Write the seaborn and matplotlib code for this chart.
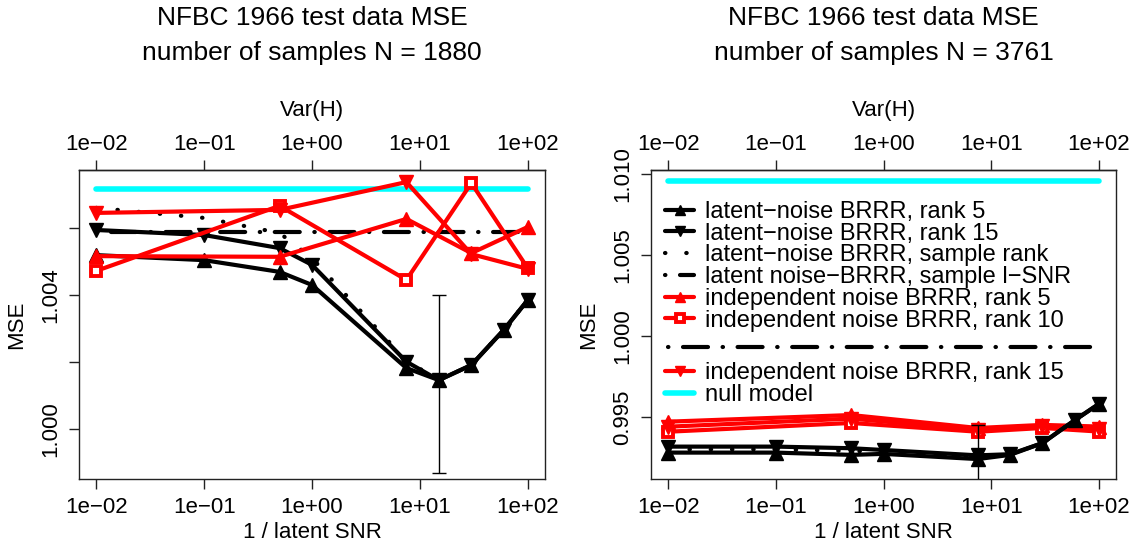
import numpy as np
import pandas as pd
import matplotlib
matplotlib.use("Agg")
import matplotlib.pyplot as plt
import seaborn as sns

# x grid: 1 / latent SNR
x_latent = [0.01, 0.1, 0.5, 1, 7.5, 15, 30, 60, 100]
x_indep = [0.01, 0.5, 7.5, 30, 100]
x_flat = [0.01, 100]

x_ticks = [0.01, 0.1, 1, 10, 100]
x_ticklabels = ["1e\u221202", "1e\u221201", "1e+00", "1e+01", "1e+02"]

# N = 1880
n1_latent_r5 = [1.00519, 1.00504, 1.00469, 1.00430, 1.00182, 1.00146, 1.00191, 1.00296, 1.00385]
n1_latent_r15 = [1.00594, 1.00579, 1.00540, 1.00490, 1.00201, 1.00146, 1.00191, 1.00296, 1.00385]
n1_latent_samp = [1.00660, 1.00630, 1.00585, 1.00510, 1.00204, 1.00146, 1.00191, 1.00296, 1.00385]
n1_latent_lsnr = [1.00588, 1.00588]
n1_indep_r5 = [1.00516, 1.00514, 1.00627, 1.00525, 1.00603]
n1_indep_r10 = [1.00472, 1.00666, 1.00445, 1.00734, 1.00480]
n1_indep_r15 = [1.00645, 1.00654, 1.00737, 1.00522, 1.00478]
n1_null = [1.00716, 1.00716]
n1_err_x, n1_err_y, n1_err = 15, 1.00134, 0.00266

# N = 3761
n2_latent_r5 = [0.99280, 0.99280, 0.99266, 0.99272, 0.99240, 0.99266, 0.99339, 0.99481, 0.99580]
n2_latent_r15 = [0.99317, 0.99317, 0.99307, 0.99296, 0.99263, 0.99270, 0.99339, 0.99481, 0.99580]
n2_latent_samp = [0.99300, 0.99300, 0.99290, 0.99285, 0.99250, 0.99268, 0.99339, 0.99481, 0.99580]
n2_latent_lsnr = [0.99934, 0.99934]
n2_indep_r5 = [0.99471, 0.99512, 0.99432, 0.99451, 0.99441]
n2_indep_r10 = [0.99409, 0.99463, 0.99409, 0.99432, 0.99410]
n2_indep_r15 = [0.99440, 0.99490, 0.99420, 0.99445, 0.99425]
n2_null = [1.00957, 1.00957]
n2_err_x, n2_err_y, n2_err = 7.5, 0.99240, 0.00210

labels = ["latent\u2212noise BRRR, rank 5",
          "latent\u2212noise BRRR, rank 15",
          "latent\u2212noise BRRR, sample rank",
          "latent noise\u2212BRRR, sample l\u2212SNR",
          "independent noise BRRR, rank 5",
          "independent noise BRRR, rank 10",
          "independent noise BRRR, rank 15",
          "null model"]

sns.set_theme(style="ticks")
plt.rcParams['font.family'] = ['Liberation Sans', 'DejaVu Sans']
plt.rcParams['axes.linewidth'] = 1.0
plt.rcParams['axes.edgecolor'] = '#222222'
plt.rcParams['text.color'] = 'black'
plt.rcParams['axes.labelcolor'] = 'black'
plt.rcParams['xtick.color'] = 'black'
plt.rcParams['ytick.color'] = 'black'

lw = 3
ms = 10
fs = 16
dot_style = dict(linestyle=(0, (0.1, 5)), dash_capstyle='round')
dashdot_style = dict(linestyle=(0, (0.1, 3.5, 6, 3.5)), dash_capstyle='round')


def draw_panel(ax, vals, err, ylim, yticks, yticklabels, title, black_on_top):
    r5, r15, samp, lsnr, i5, i10, i15, null = vals
    zb = 4 if black_on_top else 2
    zr = 2 if black_on_top else 4

    sns.lineplot(x=x_flat, y=null, ax=ax, color='#00FFFF', lw=4, label=labels[7], zorder=1)
    sns.lineplot(x=x_flat, y=lsnr, ax=ax, color='black', lw=lw, label=labels[3], zorder=zb, **dashdot_style)
    sns.lineplot(x=x_latent, y=samp, ax=ax, color='black', lw=lw, label=labels[2], zorder=zb, **dot_style)
    sns.lineplot(x=x_latent, y=r5, ax=ax, color='black', lw=lw, marker='^', ms=ms,
                 markeredgecolor='black', markeredgewidth=1, label=labels[0], zorder=zb)
    sns.lineplot(x=x_latent, y=r15, ax=ax, color='black', lw=lw, marker='v', ms=ms,
                 markeredgecolor='black', markeredgewidth=1, label=labels[1], zorder=zb)
    sns.lineplot(x=x_indep, y=i5, ax=ax, color='red', lw=lw, marker='^', ms=ms,
                 markeredgecolor='red', markeredgewidth=1, label=labels[4], zorder=zr)
    sns.lineplot(x=x_indep, y=i10, ax=ax, color='red', lw=lw, marker='s', ms=7,
                 markerfacecolor='white', markeredgecolor='red', markeredgewidth=2.8,
                 label=labels[5], zorder=zr)
    sns.lineplot(x=x_indep, y=i15, ax=ax, color='red', lw=lw, marker='v', ms=ms,
                 markeredgecolor='red', markeredgewidth=1, label=labels[6], zorder=zr)

    ex, ey, ee = err
    ax.errorbar([ex], [ey], yerr=[ee], fmt='none', ecolor='black', elinewidth=1,
                capsize=5, capthick=1, zorder=5)

    ax.set_xscale('log')
    ax.set_xlim(10 ** -2.16, 10 ** 2.16)
    ax.set_ylim(*ylim)
    ax.minorticks_off()
    ax.set_xticks(x_ticks)
    ax.set_xticklabels(x_ticklabels, fontsize=fs)
    ax.set_yticks(yticks)
    ax.set_yticklabels(yticklabels, fontsize=fs, rotation=90, va='center')
    ax.tick_params(axis='both', length=7, width=1, color='#222222', pad=6)
    ax.set_xlabel('1 / latent SNR', fontsize=fs, labelpad=3)
    ax.set_ylabel('MSE', fontsize=fs, labelpad=9)

    top = ax.secondary_xaxis('top')
    top.set_xticks(x_ticks)
    top.set_xticklabels(x_ticklabels, fontsize=fs)
    top.minorticks_off()
    top.tick_params(length=7, width=1, color='#222222', pad=4)
    top.set_xlabel('Var(H)', fontsize=fs, labelpad=13)

    ax.set_title(title, fontsize=19, y=1.435, va='center', linespacing=1.55, pad=0)
    for s in ax.spines.values():
        s.set_visible(True)
    ax.grid(False)
    ax.get_legend().remove()


fig = plt.figure(figsize=(11.35, 5.43), dpi=100)
ax1 = fig.add_axes([79 / 1135, 64 / 543, 466 / 1135, 309 / 543])
ax2 = fig.add_axes([651 / 1135, 64 / 543, 465 / 1135, 309 / 543])

draw_panel(ax1,
           [n1_latent_r5, n1_latent_r15, n1_latent_samp, n1_latent_lsnr,
            n1_indep_r5, n1_indep_r10, n1_indep_r15, n1_null],
           (n1_err_x, n1_err_y, n1_err),
           (0.99851, 1.00773), [1.000, 1.002, 1.004, 1.006],
           ["1.000", "", "1.004", ""],
           "NFBC 1966 test data MSE\nnumber of samples N = 1880", False)

draw_panel(ax2,
           [n2_latent_r5, n2_latent_r15, n2_latent_samp, n2_latent_lsnr,
            n2_indep_r5, n2_indep_r10, n2_indep_r15, n2_null],
           (n2_err_x, n2_err_y, n2_err),
           (0.99117, 1.01025), [0.995, 1.000, 1.005, 1.010],
           ["0.995", "1.000", "1.005", "1.010"],
           "NFBC 1966 test data MSE\nnumber of samples N = 3761", True)

# legend in right panel (two blocks, as in the original)
handles, labs = ax2.get_legend_handles_labels()
hmap = dict(zip(labs, handles))
leg_kw = dict(frameon=False, fontsize=17, handlelength=1.25, handletextpad=0.45,
              labelspacing=-0.01, borderpad=0, borderaxespad=0, numpoints=1,
              markerscale=0.75, loc='upper left')
leg1 = ax2.legend([hmap[l] for l in labels[:6]], labels[:6],
                  bbox_to_anchor=(0.03, 0.90), **leg_kw)
ax2.add_artist(leg1)
ax2.legend([hmap[l] for l in labels[6:]], labels[6:],
           bbox_to_anchor=(0.03, 0.378), **leg_kw)

fig.savefig('out.png', dpi=100)
